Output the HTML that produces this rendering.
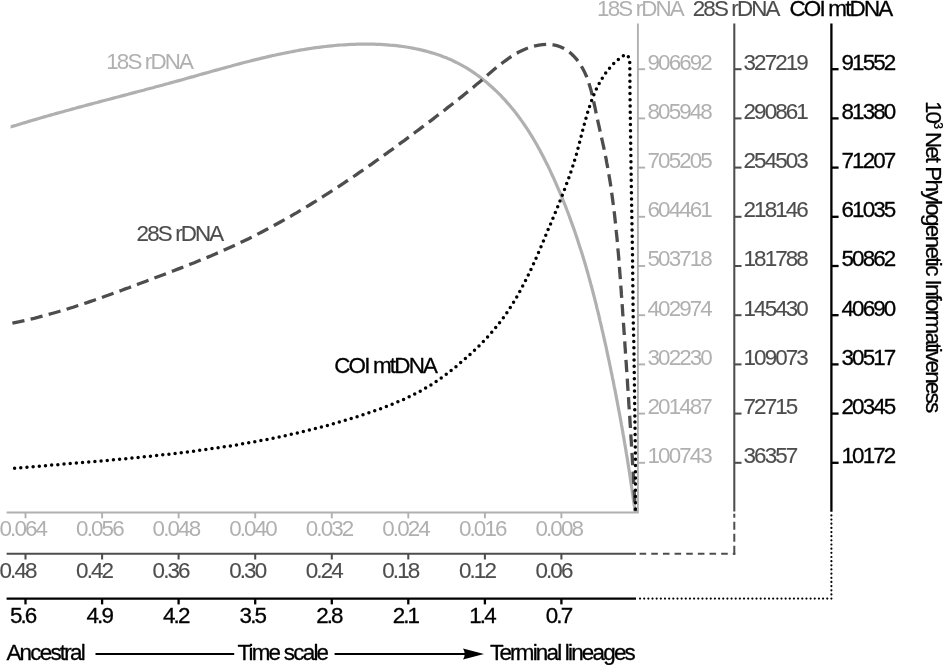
<!DOCTYPE html>
<html lang="en"><head><meta charset="utf-8"><title>Net Phylogenetic Informativeness</title>
<style>html,body{margin:0;padding:0;background:#fff}body{width:943px;height:665px;overflow:hidden}svg{display:block;filter:blur(0.4px)}text{font-family:"Liberation Sans",Arial,Helvetica,sans-serif;font-size:22.4px;letter-spacing:-1.88px;stroke-width:0px;stroke-linejoin:round}.lg{fill:#b0b0b0;stroke:none}.dg{fill:#4d4d4d;stroke:#4d4d4d;stroke-width:0.12px}.bk{fill:#000;stroke:#000;stroke-width:0.3px}</style></head><body>
<svg width="943" height="665" viewBox="0 0 943 665">
<rect width="943" height="665" fill="#fff"/>
<defs><clipPath id="cl"><rect x="10.6" y="0" width="640" height="520"/></clipPath></defs>
<path d="M4.0,129.1 L7.1,128.1 L10.2,127.1 L13.3,126.1 L16.4,125.2 L19.5,124.2 L22.6,123.3 L25.7,122.4 L28.8,121.4 L31.9,120.5 L35.0,119.6 L38.1,118.7 L41.2,117.8 L44.3,116.9 L47.4,116.0 L50.5,115.1 L53.6,114.3 L56.7,113.4 L59.8,112.5 L62.9,111.7 L66.0,110.8 L69.1,110.0 L72.2,109.1 L75.3,108.3 L78.4,107.4 L81.5,106.6 L84.6,105.8 L87.7,104.9 L90.8,104.1 L93.9,103.3 L97.0,102.5 L100.1,101.6 L103.2,100.8 L106.3,100.0 L109.4,99.2 L112.5,98.4 L115.6,97.5 L118.8,96.7 L121.9,95.9 L125.0,95.1 L128.1,94.3 L131.2,93.4 L134.3,92.6 L137.4,91.8 L140.5,91.0 L143.6,90.2 L146.7,89.3 L149.8,88.5 L152.9,87.7 L156.0,86.8 L159.1,86.0 L162.2,85.2 L165.3,84.3 L168.4,83.5 L171.5,82.6 L174.6,81.8 L177.8,80.9 L180.9,80.1 L184.0,79.2 L187.1,78.3 L190.2,77.4 L193.3,76.6 L196.4,75.7 L199.5,74.8 L202.6,73.9 L205.7,73.1 L208.9,72.2 L212.0,71.3 L215.1,70.4 L218.2,69.6 L221.3,68.7 L224.5,67.9 L227.6,67.0 L230.7,66.2 L233.8,65.3 L236.9,64.5 L240.1,63.6 L243.2,62.8 L246.3,62.0 L249.5,61.2 L252.6,60.4 L255.7,59.6 L258.9,58.9 L262.0,58.1 L265.2,57.4 L268.3,56.6 L271.5,55.9 L274.6,55.2 L277.8,54.5 L280.9,53.9 L284.1,53.2 L287.2,52.6 L290.4,52.0 L293.6,51.4 L296.7,50.8 L299.9,50.2 L303.1,49.7 L306.2,49.1 L309.4,48.6 L312.6,48.2 L315.8,47.7 L319.0,47.3 L322.2,46.9 L325.4,46.5 L328.6,46.1 L331.8,45.8 L335.0,45.5 L338.2,45.2 L341.4,45.0 L344.6,44.8 L347.9,44.6 L351.1,44.4 L354.3,44.3 L357.5,44.2 L360.8,44.1 L364.0,44.1 L367.3,44.1 L370.5,44.1 L373.8,44.2 L377.0,44.3 L380.3,44.4 L383.5,44.6 L386.8,44.8 L390.0,45.1 L393.3,45.3 L396.5,45.7 L399.7,46.1 L402.9,46.5 L406.1,47.0 L409.3,47.5 L412.5,48.1 L415.7,48.7 L418.8,49.4 L421.9,50.1 L425.1,50.9 L428.2,51.7 L431.2,52.6 L434.3,53.5 L437.3,54.5 L440.3,55.5 L443.3,56.7 L446.3,57.8 L449.2,59.1 L452.1,60.3 L454.9,61.7 L457.8,63.1 L460.6,64.6 L463.3,66.1 L466.1,67.7 L468.8,69.4 L471.5,71.1 L474.1,72.9 L476.7,74.7 L479.3,76.6 L481.8,78.6 L484.3,80.5 L486.8,82.6 L489.2,84.7 L491.6,86.8 L494.0,89.0 L496.3,91.2 L498.6,93.4 L500.9,95.7 L503.1,98.1 L505.3,100.4 L507.4,102.9 L509.6,105.3 L511.6,107.8 L513.7,110.3 L515.7,112.8 L517.7,115.4 L519.6,118.0 L521.5,120.6 L523.4,123.3 L525.2,126.0 L527.0,128.7 L528.8,131.4 L530.5,134.1 L532.2,136.9 L533.9,139.7 L535.5,142.5 L537.1,145.3 L538.7,148.2 L540.3,151.0 L541.8,153.9 L543.3,156.8 L544.8,159.7 L546.2,162.6 L547.7,165.5 L549.1,168.4 L550.5,171.3 L551.8,174.3 L553.2,177.2 L554.5,180.2 L555.8,183.2 L557.1,186.1 L558.4,189.1 L559.7,192.1 L560.9,195.0 L562.2,198.0 L563.4,201.0 L564.6,204.0 L565.8,207.0 L566.9,210.0 L568.1,213.0 L569.2,216.0 L570.3,219.1 L571.4,222.1 L572.5,225.1 L573.6,228.1 L574.7,231.2 L575.7,234.2 L576.7,237.3 L577.7,240.3 L578.7,243.4 L579.7,246.4 L580.7,249.5 L581.7,252.5 L582.6,255.6 L583.6,258.7 L584.5,261.7 L585.4,264.8 L586.3,267.9 L587.2,271.0 L588.1,274.1 L588.9,277.2 L589.8,280.3 L590.6,283.4 L591.5,286.5 L592.3,289.6 L593.1,292.7 L593.9,295.8 L594.7,298.9 L595.5,302.0 L596.3,305.1 L597.0,308.3 L597.8,311.4 L598.6,314.5 L599.3,317.6 L600.0,320.8 L600.8,323.9 L601.5,327.0 L602.2,330.2 L603.0,333.3 L603.7,336.5 L604.4,339.6 L605.1,342.8 L605.8,345.9 L606.5,349.0 L607.1,352.2 L607.8,355.4 L608.5,358.5 L609.2,361.7 L609.8,364.8 L610.5,368.0 L611.1,371.1 L611.8,374.3 L612.4,377.5 L613.1,380.6 L613.7,383.8 L614.3,387.0 L615.0,390.1 L615.6,393.3 L616.2,396.5 L616.8,399.6 L617.4,402.8 L618.0,406.0 L618.6,409.2 L619.2,412.3 L619.8,415.5 L620.4,418.7 L621.0,421.9 L621.5,425.0 L622.1,428.2 L622.7,431.4 L623.2,434.6 L623.8,437.7 L624.3,440.9 L624.8,444.1 L625.4,447.3 L625.9,450.5 L626.4,453.6 L627.0,456.8 L627.5,460.0 L628.0,463.2 L628.5,466.4 L629.0,469.6 L629.5,472.7 L630.0,475.9 L630.4,479.1 L630.9,482.3 L631.4,485.5 L631.9,488.6 L632.3,491.8 L632.8,495.0 L633.2,498.2 L633.7,501.4 L634.1,504.6 L634.6,507.7 L635.0,510.9" fill="none" stroke="#b0b0b0" stroke-width="3.2" clip-path="url(#cl)"/>
<path d="M12.4,323.1 L16.1,322.3 L19.7,321.6 L23.3,320.8 L26.9,320.0 L30.5,319.1 L34.1,318.3 L37.7,317.4 L41.3,316.4 L44.8,315.5 L48.4,314.5 L51.9,313.5 L55.5,312.5 L59.0,311.5 L62.6,310.4 L66.1,309.4 L69.6,308.3 L73.1,307.2 L76.6,306.0 L80.1,304.9 L83.6,303.7 L87.1,302.6 L90.6,301.4 L94.1,300.2 L97.6,299.0 L101.1,297.8 L104.5,296.5 L108.0,295.3 L111.5,294.0 L114.9,292.8 L118.4,291.5 L121.9,290.2 L125.3,288.9 L128.8,287.7 L132.2,286.4 L135.7,285.1 L139.1,283.8 L142.6,282.5 L146.1,281.2 L149.5,279.9 L153.0,278.6 L156.4,277.3 L159.9,276.0 L163.3,274.7 L166.8,273.4 L170.2,272.0 L173.7,270.7 L177.1,269.4 L180.5,268.1 L184.0,266.7 L187.4,265.4 L190.8,264.0 L194.3,262.7 L197.7,261.3 L201.1,259.9 L204.5,258.5 L207.9,257.1 L211.3,255.7 L214.7,254.2 L218.1,252.8 L221.5,251.3 L224.8,249.8 L228.2,248.3 L231.6,246.8 L234.9,245.3 L238.2,243.7 L241.6,242.1 L244.9,240.5 L248.2,238.9 L251.5,237.3 L254.8,235.6 L258.1,233.9 L261.4,232.2 L264.6,230.5 L267.9,228.8 L271.1,227.1 L274.4,225.3 L277.6,223.5 L280.8,221.7 L284.1,219.9 L287.3,218.1 L290.5,216.3 L293.7,214.4 L296.9,212.6 L300.1,210.7 L303.2,208.8 L306.4,206.9 L309.6,205.0 L312.7,203.0 L315.9,201.1 L319.0,199.1 L322.1,197.2 L325.2,195.2 L328.4,193.2 L331.5,191.2 L334.6,189.2 L337.7,187.2 L340.8,185.1 L343.8,183.1 L346.9,181.0 L350.0,179.0 L353.0,176.9 L356.1,174.8 L359.1,172.7 L362.2,170.6 L365.2,168.5 L368.3,166.4 L371.3,164.3 L374.3,162.2 L377.3,160.0 L380.3,157.9 L383.3,155.7 L386.3,153.6 L389.3,151.4 L392.3,149.3 L395.3,147.1 L398.2,144.9 L401.2,142.7 L404.2,140.6 L407.1,138.4 L410.1,136.2 L413.0,134.0 L415.9,131.8 L418.9,129.6 L421.8,127.4 L424.7,125.2 L427.6,123.0 L430.6,120.8 L433.5,118.6 L436.4,116.3 L439.3,114.1 L442.2,111.9 L445.1,109.7 L447.9,107.4 L450.8,105.2 L453.7,102.9 L456.6,100.7 L459.5,98.4 L462.4,96.1 L465.2,93.8 L468.1,91.5 L471.0,89.1 L473.9,86.7 L476.7,84.3 L479.6,81.9 L482.5,79.5 L485.3,77.0 L488.2,74.6 L491.1,72.1 L494.0,69.6 L496.9,67.2 L499.9,64.9 L502.9,62.5 L505.9,60.3 L508.9,58.1 L512.0,56.1 L515.2,54.1 L518.4,52.3 L521.6,50.7 L524.9,49.2 L528.3,47.9 L531.7,46.7 L535.3,45.8 L538.9,45.1 L542.5,44.6 L546.2,44.4 L549.8,44.5 L553.4,44.9 L556.9,45.6 L560.2,46.7 L563.4,48.2 L566.5,50.0 L569.4,52.1 L572.1,54.5 L574.7,57.1 L577.1,59.9 L579.3,62.9 L581.3,66.0 L583.1,69.3 L584.8,72.6 L586.3,76.0 L587.6,79.4 L588.8,83.0 L589.9,86.5 L591.0,90.1 L591.9,93.8 L592.8,97.4 L593.6,101.1 L594.4,104.8 L595.2,108.5 L595.9,112.1 L596.7,115.8 L597.5,119.4 L598.3,123.1 L599.1,126.7 L599.9,130.3 L600.7,133.9 L601.5,137.5 L602.3,141.0 L603.1,144.6 L603.9,148.2 L604.6,151.8 L605.3,155.4 L606.1,158.9 L606.7,162.5 L607.4,166.1 L608.1,169.7 L608.7,173.4 L609.3,177.0 L609.9,180.6 L610.5,184.2 L611.0,187.8 L611.5,191.5 L612.0,195.1 L612.5,198.8 L613.0,202.4 L613.5,206.1 L613.9,209.7 L614.4,213.4 L614.8,217.0 L615.2,220.7 L615.6,224.4 L616.0,228.0 L616.3,231.7 L616.7,235.4 L617.1,239.1 L617.4,242.7 L617.7,246.4 L618.0,250.1 L618.4,253.8 L618.7,257.5 L619.0,261.2 L619.3,264.9 L619.5,268.5 L619.8,272.2 L620.1,275.9 L620.4,279.6 L620.6,283.3 L620.9,287.0 L621.2,290.7 L621.4,294.4 L621.7,298.0 L622.0,301.7 L622.2,305.4 L622.5,309.1 L622.7,312.8 L623.0,316.5 L623.3,320.2 L623.5,323.8 L623.8,327.5 L624.0,331.2 L624.3,334.9 L624.5,338.6 L624.8,342.2 L625.0,345.9 L625.3,349.6 L625.5,353.3 L625.8,356.9 L626.0,360.6 L626.3,364.3 L626.5,368.0 L626.8,371.6 L627.0,375.3 L627.3,379.0 L627.5,382.7 L627.7,386.4 L628.0,390.0 L628.2,393.7 L628.5,397.4 L628.7,401.1 L628.9,404.7 L629.2,408.4 L629.4,412.1 L629.7,415.8 L629.9,419.4 L630.1,423.1 L630.4,426.8 L630.6,430.5 L630.8,434.1 L631.0,437.8 L631.3,441.5 L631.5,445.2 L631.7,448.9 L631.9,452.5 L632.2,456.2 L632.4,459.9 L632.6,463.6 L632.8,467.3 L633.0,470.9 L633.3,474.6 L633.5,478.3 L633.7,482.0 L633.9,485.7 L634.1,489.4 L634.3,493.1 L634.5,496.8 L634.7,500.4 L635.0,504.1 L635.2,507.8 L635.4,511.5" fill="none" stroke="#4d4d4d" stroke-width="3.3" stroke-dasharray="12.3 6.35"/>
<path d="M14.6,468.3 L17.3,468.0 L20.0,467.8 L22.7,467.6 L25.4,467.3 L28.2,467.1 L30.9,466.9 L33.6,466.6 L36.4,466.4 L39.1,466.2 L41.8,466.0 L44.5,465.7 L47.3,465.5 L50.0,465.3 L52.7,465.0 L55.5,464.8 L58.2,464.6 L60.9,464.4 L63.7,464.1 L66.4,463.9 L69.1,463.7 L71.9,463.4 L74.6,463.2 L77.4,463.0 L80.1,462.8 L82.8,462.5 L85.6,462.3 L88.3,462.1 L91.0,461.8 L93.8,461.6 L96.5,461.3 L99.3,461.1 L102.0,460.9 L104.7,460.6 L107.5,460.4 L110.2,460.1 L113.0,459.9 L115.7,459.6 L118.4,459.4 L121.2,459.1 L123.9,458.8 L126.6,458.6 L129.4,458.3 L132.1,458.1 L134.9,457.8 L137.6,457.5 L140.3,457.2 L143.1,457.0 L145.8,456.7 L148.6,456.4 L151.3,456.1 L154.0,455.8 L156.8,455.5 L159.5,455.2 L162.2,454.9 L165.0,454.6 L167.7,454.3 L170.4,454.0 L173.2,453.7 L175.9,453.4 L178.6,453.0 L181.4,452.7 L184.1,452.4 L186.8,452.0 L189.5,451.7 L192.3,451.3 L195.0,451.0 L197.7,450.6 L200.4,450.2 L203.2,449.9 L205.9,449.5 L208.6,449.1 L211.3,448.7 L214.0,448.3 L216.8,447.9 L219.5,447.5 L222.2,447.1 L224.9,446.7 L227.6,446.3 L230.3,445.9 L233.0,445.4 L235.8,445.0 L238.5,444.6 L241.2,444.1 L243.9,443.6 L246.6,443.2 L249.3,442.7 L252.0,442.2 L254.7,441.7 L257.4,441.2 L260.1,440.7 L262.8,440.2 L265.5,439.7 L268.2,439.2 L270.9,438.7 L273.5,438.1 L276.2,437.6 L278.9,437.0 L281.6,436.5 L284.3,435.9 L287.0,435.3 L289.6,434.7 L292.3,434.1 L295.0,433.5 L297.7,432.9 L300.3,432.3 L303.0,431.6 L305.7,431.0 L308.3,430.4 L311.0,429.7 L313.6,429.0 L316.3,428.4 L319.0,427.7 L321.6,427.0 L324.3,426.3 L326.9,425.6 L329.6,424.8 L332.2,424.1 L334.8,423.4 L337.5,422.6 L340.1,421.8 L342.8,421.1 L345.4,420.3 L348.0,419.5 L350.7,418.7 L353.3,417.9 L355.9,417.0 L358.5,416.2 L361.1,415.4 L363.7,414.5 L366.4,413.6 L369.0,412.8 L371.6,411.9 L374.2,411.0 L376.8,410.0 L379.4,409.1 L382.0,408.2 L384.5,407.2 L387.1,406.2 L389.7,405.2 L392.2,404.2 L394.8,403.1 L397.3,402.1 L399.8,401.0 L402.4,399.9 L404.9,398.8 L407.3,397.6 L409.8,396.4 L412.3,395.2 L414.7,394.0 L417.2,392.8 L419.6,391.5 L422.0,390.1 L424.4,388.8 L426.7,387.4 L429.1,386.0 L431.4,384.6 L433.7,383.1 L436.0,381.6 L438.3,380.0 L440.5,378.5 L442.8,376.9 L445.0,375.3 L447.2,373.6 L449.4,371.9 L451.5,370.2 L453.7,368.5 L455.8,366.8 L457.9,365.0 L460.0,363.2 L462.1,361.4 L464.2,359.6 L466.3,357.8 L468.3,356.0 L470.4,354.1 L472.4,352.2 L474.4,350.3 L476.4,348.4 L478.4,346.5 L480.3,344.6 L482.2,342.6 L484.2,340.6 L486.0,338.6 L487.9,336.6 L489.7,334.6 L491.6,332.5 L493.4,330.4 L495.1,328.4 L496.8,326.2 L498.6,324.1 L500.2,321.9 L501.9,319.8 L503.5,317.6 L505.1,315.3 L506.6,313.1 L508.2,310.8 L509.7,308.5 L511.1,306.2 L512.6,303.9 L514.0,301.6 L515.4,299.2 L516.8,296.9 L518.2,294.5 L519.5,292.1 L520.8,289.7 L522.1,287.2 L523.4,284.8 L524.7,282.4 L525.9,279.9 L527.1,277.4 L528.3,275.0 L529.5,272.5 L530.7,270.0 L531.9,267.5 L533.0,265.0 L534.2,262.4 L535.3,259.9 L536.4,257.4 L537.5,254.9 L538.6,252.3 L539.7,249.8 L540.8,247.2 L541.9,244.7 L543.0,242.2 L544.0,239.6 L545.1,237.1 L546.1,234.5 L547.2,232.0 L548.2,229.4 L549.3,226.9 L550.4,224.4 L551.4,221.8 L552.5,219.3 L553.5,216.8 L554.5,214.3 L555.6,211.8 L556.6,209.2 L557.7,206.7 L558.7,204.2 L559.7,201.7 L560.7,199.1 L561.7,196.6 L562.7,194.1 L563.7,191.5 L564.7,189.0 L565.6,186.5 L566.6,183.9 L567.5,181.3 L568.5,178.8 L569.4,176.2 L570.3,173.6 L571.2,171.0 L572.0,168.4 L572.9,165.8 L573.7,163.2 L574.5,160.6 L575.3,157.9 L576.1,155.3 L576.9,152.6 L577.6,149.9 L578.3,147.2 L579.0,144.5 L579.7,141.8 L580.4,139.1 L581.1,136.4 L581.8,133.7 L582.5,131.0 L583.2,128.3 L583.9,125.6 L584.7,122.9 L585.4,120.2 L586.2,117.5 L586.9,114.9 L587.7,112.2 L588.5,109.6 L589.4,106.9 L590.3,104.3 L591.2,101.8 L592.1,99.2 L593.1,96.7 L594.1,94.2 L595.2,91.7 L596.3,89.2 L597.5,86.8 L598.7,84.4 L600.0,82.1 L601.3,79.7 L602.7,77.5 L604.2,75.2 L605.7,73.0 L607.3,70.9 L609.0,68.8 L610.7,66.7 L612.6,64.7 L614.5,62.8 L616.5,61.0 L618.6,59.2 L620.9,57.5 L623.2,55.9 L625.7,54.4 L628.6,56.9 L629.6,59.5 L629.8,63.9 L630.0,95.0 L631.2,180.0 L632.5,255.0 L633.2,320.0 L633.8,342.0 L634.5,390.0 L635.2,440.0 L635.5,460.0 L635.5,511.5" fill="none" stroke="#000" stroke-width="3.5" stroke-linecap="round" stroke-dasharray="0 6.2"/>
<g stroke="#b0b0b0" stroke-width="1.9" fill="none">
<path d="M6.6,512.5 H638.85 M637.9,513.45 V23.5"/>
<path d="M561.4,512.5 v5.8"/>
<path d="M484.9,512.5 v5.8"/>
<path d="M408.3,512.5 v5.8"/>
<path d="M331.8,512.5 v5.8"/>
<path d="M255.2,512.5 v5.8"/>
<path d="M178.6,512.5 v5.8"/>
<path d="M102.1,512.5 v5.8"/>
<path d="M25.5,512.5 v5.8"/>
<path d="M637.9,69.2 h7.2"/>
<path d="M637.9,118.4 h7.2"/>
<path d="M637.9,167.6 h7.2"/>
<path d="M637.9,216.8 h7.2"/>
<path d="M637.9,266.0 h7.2"/>
<path d="M637.9,315.2 h7.2"/>
<path d="M637.9,364.4 h7.2"/>
<path d="M637.9,413.6 h7.2"/>
<path d="M637.9,462.8 h7.2"/>
</g>
<g stroke="#4d4d4d" stroke-width="2.05" fill="none">
<path d="M6.6,553.7 H636 M734.3,23.5 V511.5"/>
<path d="M734.3,554.8000000000001 V513" stroke-width="2" stroke-dasharray="9 4 8 4 8 4 4 10"/>
<path d="M639.6,553.7 H735.3" stroke-width="2" stroke-dasharray="6.6 5.05"/>
<path d="M561.4,553.7 v5.8"/>
<path d="M484.9,553.7 v5.8"/>
<path d="M408.3,553.7 v5.8"/>
<path d="M331.8,553.7 v5.8"/>
<path d="M255.2,553.7 v5.8"/>
<path d="M178.6,553.7 v5.8"/>
<path d="M102.1,553.7 v5.8"/>
<path d="M25.5,553.7 v5.8"/>
<path d="M734.3,69.2 h7.2"/>
<path d="M734.3,118.4 h7.2"/>
<path d="M734.3,167.6 h7.2"/>
<path d="M734.3,216.8 h7.2"/>
<path d="M734.3,266.0 h7.2"/>
<path d="M734.3,315.2 h7.2"/>
<path d="M734.3,364.4 h7.2"/>
<path d="M734.3,413.6 h7.2"/>
<path d="M734.3,462.8 h7.2"/>
</g>
<g stroke="#000" stroke-width="2.3" fill="none">
<path d="M6.6,598.6 H636 M831.4,23.5 V511.7"/>
<path d="M831.4,598.6 V514 M831.4,598.6 H638.5" stroke-width="2.2" stroke-linecap="round" stroke-dasharray="0.01 4.15"/>
<path d="M561.4,598.6 v5.8"/>
<path d="M484.9,598.6 v5.8"/>
<path d="M408.3,598.6 v5.8"/>
<path d="M331.8,598.6 v5.8"/>
<path d="M255.2,598.6 v5.8"/>
<path d="M178.6,598.6 v5.8"/>
<path d="M102.1,598.6 v5.8"/>
<path d="M25.5,598.6 v5.8"/>
<path d="M831.4,69.2 h7.2"/>
<path d="M831.4,118.4 h7.2"/>
<path d="M831.4,167.6 h7.2"/>
<path d="M831.4,216.8 h7.2"/>
<path d="M831.4,266.0 h7.2"/>
<path d="M831.4,315.2 h7.2"/>
<path d="M831.4,364.4 h7.2"/>
<path d="M831.4,413.6 h7.2"/>
<path d="M831.4,462.8 h7.2"/>
</g>
<text x="535.4" y="536.0" class="lg">0.008</text>
<text x="458.9" y="536.0" class="lg">0.016</text>
<text x="382.3" y="536.0" class="lg">0.024</text>
<text x="305.8" y="536.0" class="lg">0.032</text>
<text x="229.2" y="536.0" class="lg">0.040</text>
<text x="152.6" y="536.0" class="lg">0.048</text>
<text x="76.1" y="536.0" class="lg">0.056</text>
<text x="-0.5" y="536.0" class="lg">0.064</text>
<text x="535.4" y="577.5" class="dg">0.06</text>
<text x="458.9" y="577.5" class="dg">0.12</text>
<text x="382.3" y="577.5" class="dg">0.18</text>
<text x="305.8" y="577.5" class="dg">0.24</text>
<text x="229.2" y="577.5" class="dg">0.30</text>
<text x="152.6" y="577.5" class="dg">0.36</text>
<text x="76.1" y="577.5" class="dg">0.42</text>
<text x="-0.5" y="577.5" class="dg">0.48</text>
<text x="545.8" y="622.6" class="bk">0.7</text>
<text x="469.3" y="622.6" class="bk">1.4</text>
<text x="392.7" y="622.6" class="bk">2.1</text>
<text x="316.2" y="622.6" class="bk">2.8</text>
<text x="239.6" y="622.6" class="bk">3.5</text>
<text x="163.0" y="622.6" class="bk">4.2</text>
<text x="86.5" y="622.6" class="bk">4.9</text>
<text x="9.9" y="622.6" class="bk">5.6</text>
<text x="647.5" y="69.5" class="lg">906692</text>
<text x="743.5" y="69.5" class="dg">327219</text>
<text x="841.5" y="69.5" class="bk">91552</text>
<text x="647.5" y="118.7" class="lg">805948</text>
<text x="743.5" y="118.7" class="dg">290861</text>
<text x="841.5" y="118.7" class="bk">81380</text>
<text x="647.5" y="167.9" class="lg">705205</text>
<text x="743.5" y="167.9" class="dg">254503</text>
<text x="841.5" y="167.9" class="bk">71207</text>
<text x="647.5" y="217.1" class="lg">604461</text>
<text x="743.5" y="217.1" class="dg">218146</text>
<text x="841.5" y="217.1" class="bk">61035</text>
<text x="647.5" y="266.3" class="lg">503718</text>
<text x="743.5" y="266.3" class="dg">181788</text>
<text x="841.5" y="266.3" class="bk">50862</text>
<text x="647.5" y="315.5" class="lg">402974</text>
<text x="743.5" y="315.5" class="dg">145430</text>
<text x="841.5" y="315.5" class="bk">40690</text>
<text x="647.5" y="364.7" class="lg">302230</text>
<text x="743.5" y="364.7" class="dg">109073</text>
<text x="841.5" y="364.7" class="bk">30517</text>
<text x="647.5" y="413.9" class="lg">201487</text>
<text x="743.5" y="413.9" class="dg">72715</text>
<text x="841.5" y="413.9" class="bk">20345</text>
<text x="647.5" y="463.1" class="lg">100743</text>
<text x="743.5" y="463.1" class="dg">36357</text>
<text x="841.5" y="463.1" class="bk">10172</text>
<text x="597.1" y="16.3" class="lg">18S rDNA</text>
<text x="692.8" y="16.3" class="dg">28S rDNA</text>
<text x="789.5" y="16.3" class="bk" style="letter-spacing:-1.8px">COI mtDNA</text>
<text x="106.3" y="69.0" class="lg">18S rDNA</text>
<text x="136.6" y="240.8" class="dg">28S rDNA</text>
<text x="334.2" y="372.8" class="bk" style="letter-spacing:-1.8px">COI mtDNA</text>
<text x="6.4" y="660.0" class="bk" style="letter-spacing:-1.75px">Ancestral</text>
<text x="237.4" y="660.0" class="bk" style="letter-spacing:-1.75px">Time scale</text>
<text x="490.0" y="660.0" class="bk" style="letter-spacing:-1.78px">Terminal lineages</text>
<path d="M95.5,654 H234.2 M334.6,654 H468" stroke="#000" stroke-width="1.9" fill="none"/>
<path d="M484,654 L463,648.6 Q466.5,654 463,659.4 Z" fill="#000"/>
<text transform="translate(926.2,100.9) rotate(90)" class="bk">10<tspan font-size="12px" dy="-7.5" dx="0.3">3</tspan></text>
<text transform="translate(926.2,132.0) rotate(90)" class="bk">Net</text>
<text transform="translate(926.2,166.3) rotate(90)" class="bk" textLength="108.2" lengthAdjust="spacing">Phylogenetic</text>
<text transform="translate(926.2,279.4) rotate(90)" class="bk" textLength="132" lengthAdjust="spacing">Informativeness</text>
</svg></body></html>
